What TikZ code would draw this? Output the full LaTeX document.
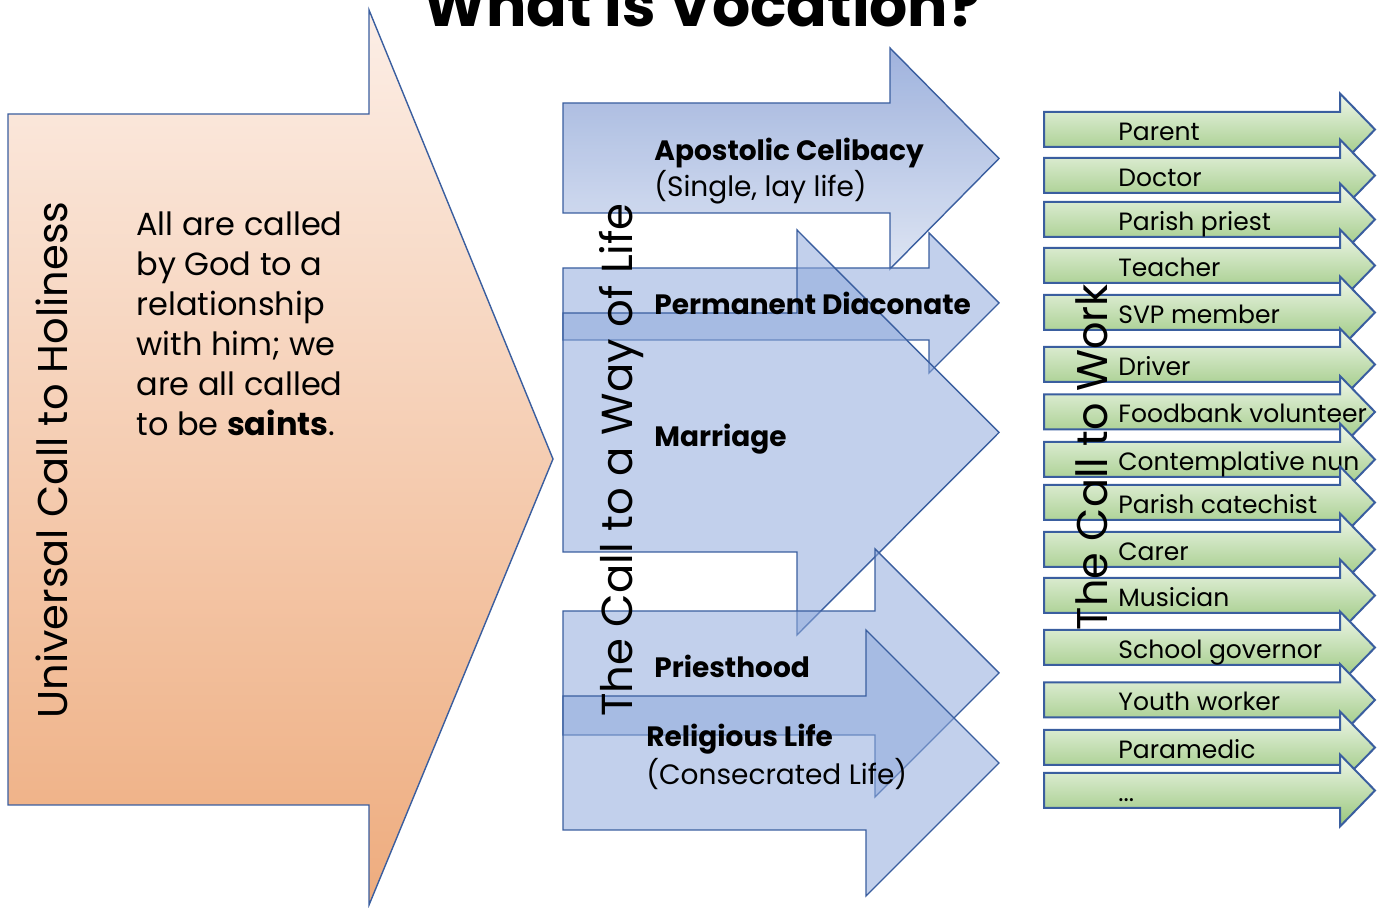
\documentclass[tikz,border=0pt]{standalone}
\usepackage{fontspec}
\setmainfont{Poppins}
\definecolor{edgeblue}{HTML}{3A5E9F}
\definecolor{peachtop}{HTML}{FCEEE6}
\definecolor{peachbot}{HTML}{EEAC7E}
\definecolor{bluefill}{HTML}{8FAADC}
\definecolor{apotop}{HTML}{97ACDA}
\definecolor{apobot}{HTML}{DAE2F2}
\definecolor{greentop}{HTML}{F0F7EB}
\definecolor{greenbot}{HTML}{98C67B}
\tikzset{
  orangearr/.style={draw=edgeblue, line width=0.7pt, top color=peachtop, bottom color=peachbot},
  apoarr/.style={draw=edgeblue, line width=0.7pt, top color=apotop, bottom color=apobot, fill opacity=0.92},
  bluearr/.style={draw=edgeblue, line width=0.7pt, fill=bluefill, fill opacity=0.55},
  greenarr/.style={draw=edgeblue, line width=1pt, top color=greentop, bottom color=greenbot},
  greenlbl/.style={anchor=base west, inner sep=0pt, font=\fontsize{12.5}{14}\selectfont},
  bluelbl/.style={anchor=base west, inner sep=0pt, font=\bfseries\fontsize{14}{16}\selectfont},
  bluesub/.style={anchor=base west, inner sep=0pt, font=\fontsize{14}{16}\selectfont},
  sidetitle/.style={rotate=90, anchor=base, inner sep=0pt}
}
\newcommand\blockarrow[8]{%
  \path[#1] (#2,#5) -- (#3,#5) -- (#3,#7) -- (#4,{(#7+#8)/2}) -- (#3,#8) -- (#3,#6) -- (#2,#6) -- cycle;}
\newcommand\greenarrow[3]{%
  \path[greenarr] (1044,#2-17.5) -- (1340,#2-17.5) -- (1340,#2-36) -- (1375,#2) -- (1340,#2+36) -- (1340,#2+17.5) -- (1044,#2+17.5) -- cycle;
  \node[greenlbl] (#1) at (1118,#2+11) {#3};}
\begin{document}
\begin{tikzpicture}[x=0.5pt, y=-0.5pt]
\useasboundingbox (0,0) rectangle (1383,908);
\clip (0,0) rectangle (1383,908);
% title
\node[anchor=base, inner sep=0pt, font=\bfseries\fontsize{30}{34}\selectfont] (title) at (702,27) {What is Vocation?};
% orange arrow
\path[orangearr] (8,114) -- (369,114) -- (369,10) -- (553,459) -- (369,905) -- (369,805) -- (8,805) -- cycle;
\node[sidetitle, font=\fontsize{20.8}{24}\selectfont] (univ) at (68,460) {Universal Call to Holiness};
\node[anchor=north west, align=left, inner sep=0pt, font=\fontsize{16}{20}\selectfont] (desc) at (136,211)
  {All are called\\by God to a\\relationship\\with him; we\\are all called\\to be \textbf{saints}.};
% blue arrows
\blockarrow{apoarr}{563}{890}{999}{103}{213}{48}{269}
\blockarrow{bluearr}{563}{929}{999}{268}{340}{233}{373}
\blockarrow{bluearr}{563}{797}{999}{313}{552}{230}{635}
\blockarrow{bluearr}{563}{875}{999}{611}{735}{549}{797}
\blockarrow{bluearr}{563}{866}{999}{696}{830}{630}{896}
\node[sidetitle, font=\fontsize{21.7}{24}\selectfont] (way) at (632,460) {The Call to a Way of Life};
\node[bluelbl] (apo) at (654,161) {Apostolic Celibacy};
\node[bluesub] (apos) at (654,197) {(Single, lay life)};
\node[bluelbl] (dia) at (654,315) {Permanent Diaconate};
\node[bluelbl] (mar) at (654,447) {Marriage};
\node[bluelbl] (pri) at (654,678) {Priesthood};
\node[bluelbl] (rel) at (646,747) {Religious Life};
\node[bluesub] (rels) at (646,785) {(Consecrated Life)};
% green arrows
\greenarrow{g1}{129.5}{Parent}
\greenarrow{g2}{175.5}{Doctor}
\greenarrow{g3}{219.5}{Parish priest}
\greenarrow{g4}{265.5}{Teacher}
\greenarrow{g5}{312.5}{SVP member}
\greenarrow{g6}{364.5}{Driver}
\greenarrow{g7}{412}{Foodbank volunteer}
\greenarrow{g8}{459.5}{Contemplative nun}
\greenarrow{g9}{502.5}{Parish catechist}
\greenarrow{g10}{549.5}{Carer}
\greenarrow{g11}{595.5}{Musician}
\greenarrow{g12}{647.5}{School governor}
\greenarrow{g13}{700}{Youth worker}
\greenarrow{g14}{747.5}{Paramedic}
\greenarrow{g15}{790.5}{...}
\node[sidetitle, font=\fontsize{21.5}{24}\selectfont] (work) at (1107,457) {The Call to Work};
\end{tikzpicture}
\end{document}
